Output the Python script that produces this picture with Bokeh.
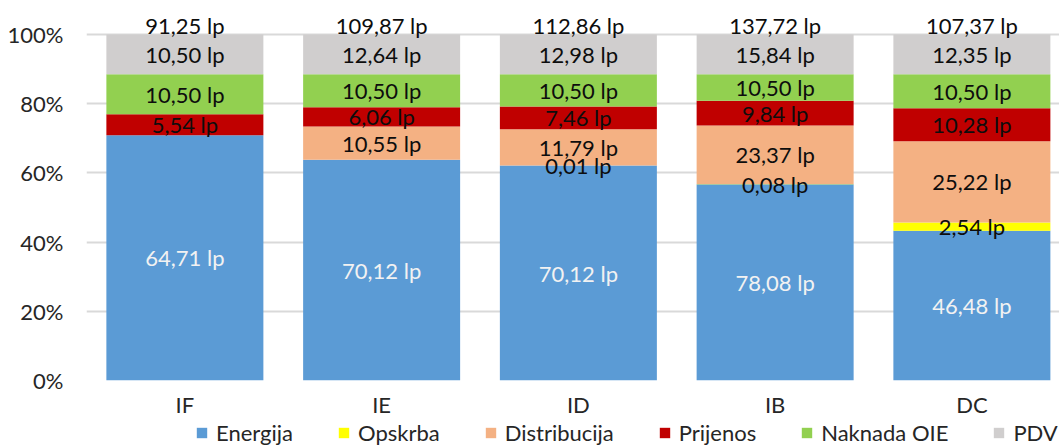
from bokeh.plotting import figure
from bokeh.layouts import column
from bokeh.models import (ColumnDataSource, Range1d, FixedTicker, Legend, LegendItem,
                          NumeralTickFormatter)
from bokeh.core.properties import value
from bokeh.embed import file_html
from bokeh.resources import INLINE

# ---- data ----
categories = ["IF", "IE", "ID", "IB", "DC"]
series = ["Energija", "Opskrba", "Distribucija", "Prijenos", "Naknada OIE", "PDV"]
energija = [64.71, 70.12, 70.12, 78.08, 46.48]
opskrba = [0.00, 0.00, 0.01, 0.08, 2.54]
distribucija = [0.00, 10.55, 11.79, 23.37, 25.22]
prijenos = [5.54, 6.06, 7.46, 9.84, 10.28]
naknada_oie = [10.50, 10.50, 10.50, 10.50, 10.50]
pdv = [10.50, 12.64, 12.98, 15.84, 12.35]
totals = [91.25, 109.87, 112.86, 137.72, 107.37]
y_ticks = [0, 0.2, 0.4, 0.6, 0.8, 1.0]

colors = ["#5B9BD5", "#FFFF00", "#F4B183", "#C00000", "#92D050", "#D0CECE"]
label_colors = ["#F2F2F2", "#0d0d0d", "#0d0d0d", "#0d0d0d", "#0d0d0d", "#0d0d0d"]
FONT = "Lato"
FS = "22px"

values = [energija, opskrba, distribucija, prijenos, naknada_oie, pdv]
keys = ["s%d" % i for i in range(len(series))]
xs = list(range(len(categories)))
sums = [sum(v[i] for v in values) for i in xs]

data = {"x": xs}
for k, v in zip(keys, values):
    data[k] = [v[i] / sums[i] for i in xs]
src = ColumnDataSource(data)

# segment labels
lx, ly, lt, lc = [], [], [], []
for i in xs:
    base = 0.0
    for si, v in enumerate(values):
        frac = v[i] / sums[i]
        if v[i] > 0:
            lx.append(i)
            ly.append(base + frac / 2)
            lt.append(("%.2f" % v[i]).replace(".", ",") + " lp")
            lc.append(label_colors[si])
        base += frac
lsrc = ColumnDataSource(dict(x=lx, y=ly, text=lt, color=lc))
tsrc = ColumnDataSource(dict(x=xs, y=[1.0] * len(xs),
                             text=[("%.2f" % t).replace(".", ",") + " lp" for t in totals]))

FRAME_W, FRAME_H, UNIT_X, UNIT_Y = 973, 380, 196.75, 346
p = figure(frame_width=FRAME_W, frame_height=FRAME_H, output_backend="svg", toolbar_location=None,
           x_range=Range1d(-0.5, -0.5 + FRAME_W / UNIT_X), y_range=Range1d(0, FRAME_H / UNIT_Y),
           min_border_left=86, min_border_right=0, min_border_top=0, min_border_bottom=0)
p.outline_line_color = None

renderers = p.vbar_stack(keys, x="x", width=157 / UNIT_X, color=colors, source=src,
                         line_color=None)

p.text(x="x", y="y", text="text", text_color="color", source=lsrc,
       text_font=value(FONT), text_font_size=FS, text_align="center", text_baseline="middle")
p.text(x="x", y="y", text="text", text_color="#0d0d0d", source=tsrc, y_offset=-9,
       text_font=value(FONT), text_font_size=FS, text_align="center", text_baseline="middle")

p.xgrid.visible = False
p.ygrid.ticker = FixedTicker(ticks=y_ticks)
p.ygrid.grid_line_color = "#D9D9D9"
p.ygrid.grid_line_width = 2
p.ygrid.level = "underlay"

p.yaxis.ticker = FixedTicker(ticks=y_ticks)
p.yaxis.formatter = NumeralTickFormatter(format="0%")
p.xaxis.ticker = FixedTicker(ticks=xs)
p.xaxis.major_label_overrides = {i: c for i, c in enumerate(categories)}
for ax in (p.xaxis, p.yaxis):
    ax.axis_line_color = None
    ax.major_tick_line_color = None
    ax.minor_tick_line_color = None
    ax.major_tick_out = 0
    ax.major_tick_in = 0
    ax.major_label_text_font = FONT
    ax.major_label_text_font_size = FS
    ax.major_label_text_color = "#262626"
p.yaxis.major_label_standoff = 23
p.xaxis.major_label_standoff = 10

# legend strip (separate small figure, legend inside its frame; its bars fall outside its y-range)
lg = figure(width=1059, height=26, output_backend="svg", toolbar_location=None,
            x_axis_location=None, y_axis_location=None,
            x_range=p.x_range, y_range=Range1d(2, 3),
            min_border_left=86, min_border_right=0, min_border_top=0, min_border_bottom=0)
lg.outline_line_color = None
lg.xgrid.visible = False
lg.ygrid.visible = False
lrend = lg.vbar_stack(keys, x="x", width=157 / UNIT_X, color=colors, source=src, line_color=None)
legend = Legend(items=[LegendItem(label=s, renderers=[r]) for s, r in zip(series, lrend)],
                orientation="horizontal", location=(109, 0), glyph_width=13, glyph_height=13,
                label_standoff=8, spacing=44, padding=0, margin=0,
                label_text_font=FONT, label_text_font_size=FS, label_text_color="#262626",
                border_line_color=None, background_fill_alpha=0)
lg.add_layout(legend)

open("out.html", "w").write(file_html(column(p, lg, spacing=0), INLINE))
